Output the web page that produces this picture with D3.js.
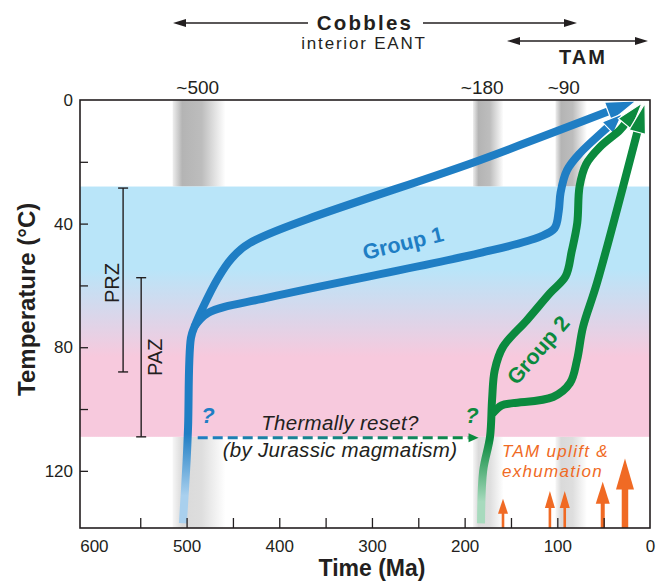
<!DOCTYPE html>
<html>
<head>
<meta charset="utf-8">
<script src="https://cdn.jsdelivr.net/npm/d3@7"></script>
<style>
  body { margin: 0; background: #fff; }
  text { font-family: "Liberation Sans", Arial, Helvetica, sans-serif; }
</style>
</head>
<body>
<div id="chart"></div>
<script>
// ---- data ----
const timeTicks = d3.range(0, 601, 50);      // Ma
const tempTicks = d3.range(0, 121, 20);      // °C
const colourBand = [28, 109];                // °C, shaded partial zones
const przRange = [28.5, 88];
const pazRange = [57.5, 109];

const peakLabels = ["~500", "~180", "~90"];
const peakAges = [488, 181, 93];
const peakBands = [[515, 458], [191, 158], [102, 68]];

// cooling paths as [Ma, °C]; the last point is the arrow tip
const group1Upper = [[504, 137], [500, 117], [498.4, 105.8], [495.3, 77], [491, 73],
  [483, 67.5], [466, 57.6], [452, 51.5], [432, 46.3], [183, 19.4], [15, 0.3]];
const group1Lower = [[492, 73.5], [477, 68.9], [410, 63.8], [183, 49.5], [119, 44.3],
  [103, 41.5], [98.5, 36], [96.5, 30], [89.5, 22.7], [75.5, 17.2], [40, 7.4], [30, 4.5]];
const group2Left = [[182.3, 137], [180, 120], [172.6, 109], [170.4, 97], [167.5, 87.4],
  [158.6, 79.9], [132.7, 71.2], [107.9, 62.5], [91, 57], [84.5, 49], [78.5, 39.8],
  [76, 28], [69, 20.8], [54, 15.2], [32.4, 9.7], [8.6, 1]];
const group2Right = [[170, 101.5], [160, 98.8], [147.8, 98.1], [104.6, 96.1], [86.3, 91.6],
  [78.7, 84.1], [72.3, 73.5], [57.2, 59.2], [5.4, 1]];

const resetFrom = [488, 109.3];
const resetTo = [185, 109.3];

const upliftAges = [158.6, 108, 92, 51, 27];
const upliftTops = [129, 126.5, 126.5, 123.5, 116];

// ---- layout ----
const W = 665, H = 583;
const margin = { top: 100, right: 15, bottom: 55, left: 80 };
const width = W - margin.left - margin.right;
const height = H - margin.top - margin.bottom;

const blue = "#1f7ec4", green = "#0b8a3e", orange = "#f06a24", ink = "#231f20";

const svg = d3.select("#chart").append("svg").attr("width", W).attr("height", H);
const defs = svg.append("defs");

const x = d3.scaleLinear().domain([615, 0]).range([margin.left, margin.left + width]);
const y = d3.scaleLinear().domain([0, 138.5]).range([margin.top, margin.top + height]);

// gradients
function vGrad(id, stops, y1, y2) {
  const g = defs.append("linearGradient").attr("id", id)
    .attr("gradientUnits", "userSpaceOnUse")
    .attr("x1", 0).attr("x2", 0).attr("y1", y1).attr("y2", y2);
  stops.forEach(s => g.append("stop").attr("offset", s[0]).attr("stop-color", s[1]));
}
vGrad("band", [[0, "#b9e5f9"], [0.33, "#b9e5f9"], [0.68, "#f7c9dd"], [1, "#f7c9dd"]],
  y(colourBand[0]), y(colourBand[1]));
vGrad("g1fade", [[0, "#a9d0ee"], [1, blue]], y(128), y(108));
vGrad("g2fade", [[0, "#a7dabd"], [1, green]], y(130), y(110));

const greyH = defs.append("linearGradient").attr("id", "grey");
[[0, "#eeeeee"], [0.18, "#b4b4b4"], [0.55, "#bdbdbd"], [1, "#ffffff"]]
  .forEach(s => greyH.append("stop").attr("offset", s[0]).attr("stop-color", s[1]));

const dashG = defs.append("linearGradient").attr("id", "dash")
  .attr("gradientUnits", "userSpaceOnUse")
  .attr("x1", x(resetFrom[0])).attr("x2", x(resetTo[0])).attr("y1", 0).attr("y2", 0);
dashG.append("stop").attr("offset", 0).attr("stop-color", blue);
dashG.append("stop").attr("offset", 1).attr("stop-color", green);

// grey time bands
peakBands.forEach(b => {
  svg.append("rect")
    .attr("x", x(b[0])).attr("width", x(b[1]) - x(b[0]))
    .attr("y", y(0)).attr("height", y(colourBand[0]) - y(0))
    .attr("fill", "url(#grey)");
  svg.append("rect")
    .attr("x", x(b[0])).attr("width", x(b[1]) - x(b[0]))
    .attr("y", y(colourBand[1])).attr("height", y(138.5) - y(colourBand[1]))
    .attr("fill", "url(#grey)").attr("opacity", 0.5);
});

// partial retention / annealing band
svg.append("rect")
  .attr("x", x(615)).attr("width", width)
  .attr("y", y(colourBand[0])).attr("height", y(colourBand[1]) - y(colourBand[0]))
  .attr("fill", "url(#band)");

// PRZ / PAZ brackets
function bracket(range, t, label, tx, shift) {
  const g = svg.append("g").attr("stroke", ink).attr("stroke-width", 1.4);
  g.append("line").attr("x1", x(t)).attr("x2", x(t)).attr("y1", y(range[0])).attr("y2", y(range[1]));
  [range[0], range[1]].forEach(v =>
    g.append("line").attr("x1", x(t) - 5).attr("x2", x(t) + 5).attr("y1", y(v)).attr("y2", y(v)));
  svg.append("text")
    .attr("transform", `translate(${tx},${(y(range[0]) + y(range[1])) / 2 + shift}) rotate(-90)`)
    .attr("text-anchor", "middle").attr("font-size", 20).attr("fill", ink)
    .text(label);
}
bracket(przRange, 568.5, "PRZ", 119, 3);
bracket(pazRange, 549, "PAZ", 162, 0);

// cooling path with arrowhead
const line = d3.line().curve(d3.curveCatmullRom.alpha(0.5));
function coolingPath(data, stroke, fill, headLen, headHalf) {
  const pts = data.map(d => [x(d[0]), y(d[1])]);
  const tip = pts[pts.length - 1], prev = pts[pts.length - 2];
  const dx = tip[0] - prev[0], dy = tip[1] - prev[1];
  const len = Math.hypot(dx, dy), ux = dx / len, uy = dy / len;
  const base = [tip[0] - ux * headLen, tip[1] - uy * headLen];
  const body = pts.slice(0, -1).concat([[base[0] + ux * 2, base[1] + uy * 2]]);
  svg.append("path").attr("d", line(body))
    .attr("fill", "none").attr("stroke", stroke).attr("stroke-width", 8);
  svg.append("path")
    .attr("d", `M${tip}L${base[0] - uy * headHalf},${base[1] + ux * headHalf}L${base[0] + uy * headHalf},${base[1] - ux * headHalf}Z`)
    .attr("fill", fill).attr("stroke", "#fff").attr("stroke-width", 1.2);
}

coolingPath(group1Upper, "url(#g1fade)", blue, 30, 10);
coolingPath(group1Lower, blue, blue, 20, 8);

// thermally reset dashed arrow
const dashEnd = x(resetTo[0]) - 10;
svg.append("line")
  .attr("x1", x(resetFrom[0])).attr("x2", dashEnd)
  .attr("y1", y(resetFrom[1])).attr("y2", y(resetTo[1]))
  .attr("stroke", "url(#dash)").attr("stroke-width", 3.2).attr("stroke-dasharray", "10,5");
svg.append("path")
  .attr("d", `M${x(resetTo[0])},${y(resetTo[1])}L${dashEnd},${y(resetTo[1]) - 4.5}L${dashEnd},${y(resetTo[1]) + 4.5}Z`)
  .attr("fill", green);

coolingPath(group2Left, "url(#g2fade)", green, 27, 8.5);
coolingPath(group2Right, green, green, 30, 8.5);

// TAM uplift arrows
const upliftSize = [
  { shaft: 2.6, len: 15, half: 5 }, { shaft: 2.6, len: 17, half: 5 }, { shaft: 2.6, len: 17, half: 5 },
  { shaft: 4, len: 22, half: 7 }, { shaft: 6.5, len: 31, half: 9 }];
upliftAges.forEach((a, i) => {
  const s = upliftSize[i], cx = x(a), top = y(upliftTops[i]), bottom = y(138.5);
  svg.append("rect").attr("x", cx - s.shaft / 2).attr("width", s.shaft)
    .attr("y", top + s.len - 1).attr("height", bottom - top - s.len + 1).attr("fill", orange);
  svg.append("path")
    .attr("d", `M${cx},${top}L${cx - s.half},${top + s.len}L${cx + s.half},${top + s.len}Z`)
    .attr("fill", orange);
});

// axes
const xAxis = svg.append("g")
  .attr("transform", `translate(0,${margin.top + height})`)
  .call(d3.axisBottom(x).tickValues(timeTicks).tickSizeInner(-10).tickSizeOuter(0)
    .tickPadding(12).tickFormat(d => d % 100 === 0 ? d : ""));
xAxis.select(".domain").remove();
xAxis.selectAll(".tick").filter(d => d === 600 || d === 0).select("line").remove();
xAxis.selectAll("line").attr("stroke", ink).attr("stroke-width", 1.3);
xAxis.selectAll("text").attr("font-size", 17).attr("fill", ink);

const yAxis = svg.append("g")
  .attr("transform", `translate(${margin.left},0)`)
  .call(d3.axisLeft(y).tickValues(tempTicks).tickSizeInner(-8).tickSizeOuter(0)
    .tickPadding(7).tickFormat(d => d % 40 === 0 ? d : ""));
yAxis.select(".domain").remove();
yAxis.selectAll(".tick").filter(d => d === 0).select("line").remove();
yAxis.selectAll("line").attr("stroke", ink).attr("stroke-width", 1.3);
yAxis.selectAll("text").attr("font-size", 17).attr("fill", ink);

svg.append("rect")
  .attr("x", margin.left).attr("y", margin.top).attr("width", width).attr("height", height)
  .attr("fill", "none").attr("stroke", ink).attr("stroke-width", 1.6);

svg.append("text")
  .attr("transform", `translate(35,${y(64.5)}) rotate(-90)`)
  .attr("text-anchor", "middle").attr("font-size", 24).attr("font-weight", "bold").attr("fill", ink)
  .text("Temperature (°C)");
svg.append("text")
  .attr("x", 372).attr("y", 576)
  .attr("text-anchor", "middle").attr("font-size", 23).attr("font-weight", "bold").attr("fill", ink)
  .text("Time (Ma)");

// peak labels
peakLabels.forEach((l, i) =>
  svg.append("text").attr("x", x(peakAges[i])).attr("y", 94)
    .attr("text-anchor", "middle").attr("font-size", 19).attr("fill", ink).text(l));

// provenance arrows at the top
function spanArrow(x1, x2, yy, gap) {
  const g = svg.append("g");
  const segs = gap ? [[x1 + 10, gap[0]], [gap[1], x2 - 10]] : [[x1 + 10, x2 - 10]];
  segs.forEach(s => g.append("line").attr("x1", s[0]).attr("x2", s[1]).attr("y1", yy).attr("y2", yy)
    .attr("stroke", ink).attr("stroke-width", 1.4));
  g.append("path").attr("d", `M${x1},${yy}L${x1 + 13},${yy - 4}L${x1 + 13},${yy + 4}Z`).attr("fill", ink);
  g.append("path").attr("d", `M${x2},${yy}L${x2 - 13},${yy - 4}L${x2 - 13},${yy + 4}Z`).attr("fill", ink);
}
spanArrow(173, 577, 23, [308, 423]);
spanArrow(507, 648, 41, null);

svg.append("text").attr("x", 365).attr("y", 30).attr("text-anchor", "middle")
  .attr("font-size", 20.5).attr("font-weight", "bold").attr("letter-spacing", 2.2).attr("fill", ink)
  .text("Cobbles");
svg.append("text").attr("x", 364).attr("y", 49).attr("text-anchor", "middle")
  .attr("font-size", 17).attr("letter-spacing", 1.8).attr("fill", ink)
  .text("interior EANT");
svg.append("text").attr("x", 583).attr("y", 64).attr("text-anchor", "middle")
  .attr("font-size", 20).attr("font-weight", "bold").attr("letter-spacing", 2).attr("fill", ink)
  .text("TAM");

// annotations
svg.append("text").attr("transform", "translate(403,243) rotate(-13.5)")
  .attr("text-anchor", "middle").attr("dy", "0.35em")
  .attr("font-size", 21.5).attr("font-weight", "bold").attr("fill", blue).text("Group 1");
svg.append("text").attr("transform", "translate(538,350) rotate(-49)")
  .attr("text-anchor", "middle").attr("dy", "0.35em")
  .attr("font-size", 21.5).attr("font-weight", "bold").attr("fill", green).text("Group 2");

svg.append("text").attr("x", 208).attr("y", 423).attr("text-anchor", "middle")
  .attr("font-size", 22).attr("font-weight", "bold").attr("font-style", "italic").attr("fill", blue).text("?");
svg.append("text").attr("x", 472).attr("y", 423).attr("text-anchor", "middle")
  .attr("font-size", 22).attr("font-weight", "bold").attr("font-style", "italic").attr("fill", green).text("?");

svg.append("text").attr("x", 340).attr("y", 430).attr("text-anchor", "middle")
  .attr("font-size", 20.5).attr("letter-spacing", 0.3).attr("font-style", "italic").attr("fill", ink)
  .text("Thermally reset?");
svg.append("text").attr("x", 340).attr("y", 457).attr("text-anchor", "middle")
  .attr("font-size", 20.5).attr("letter-spacing", 0.3).attr("font-style", "italic").attr("fill", ink)
  .text("(by Jurassic magmatism)");

svg.append("text").attr("x", 502).attr("y", 457)
  .attr("font-size", 17).attr("letter-spacing", 1.3).attr("font-style", "italic").attr("fill", orange)
  .text("TAM uplift &");
svg.append("text").attr("x", 502).attr("y", 477)
  .attr("font-size", 17).attr("letter-spacing", 1.3).attr("font-style", "italic").attr("fill", orange)
  .text("exhumation");
</script>
</body>
</html>
